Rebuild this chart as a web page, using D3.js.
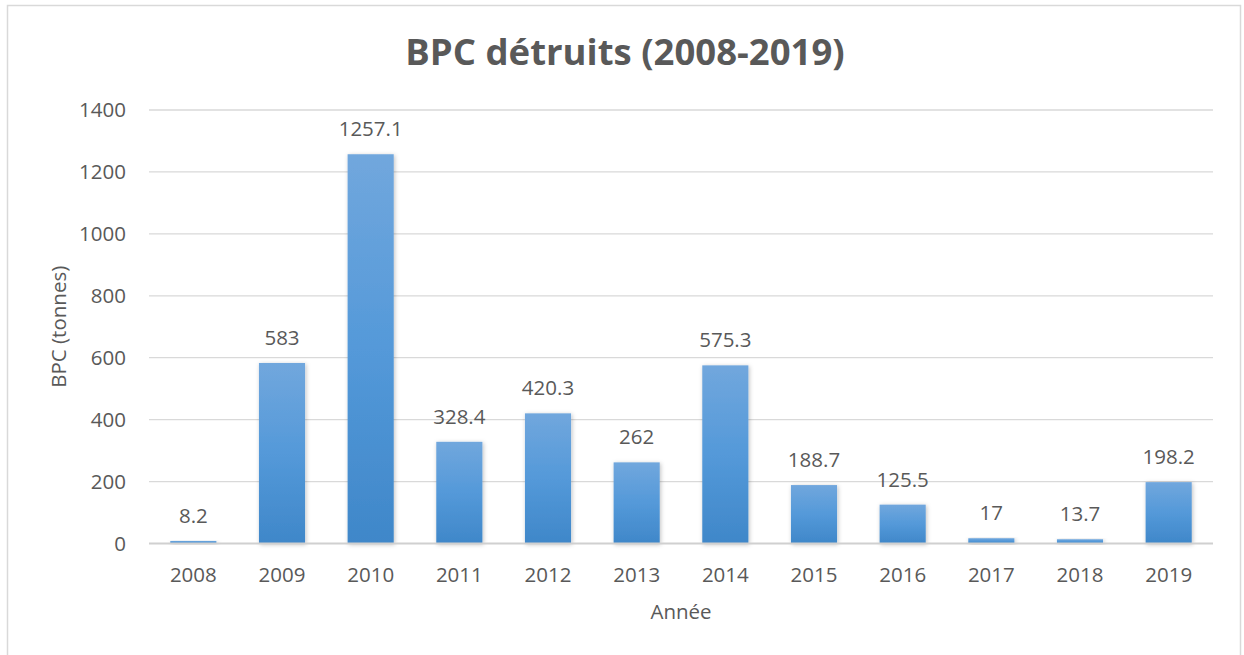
<!DOCTYPE html>
<html><head><meta charset="utf-8">
<script src="https://cdn.jsdelivr.net/npm/d3@7"></script>
<style>body{margin:0;background:#fff}svg{display:block}text{font-family:"Open Sans",sans-serif;fill:#595959}</style>
</head><body>
<svg id="c" width="1244" height="655"></svg>
<script>
const categories = ["2008","2009","2010","2011","2012","2013","2014","2015","2016","2017","2018","2019"];
const values = [8.2,583,1257.1,328.4,420.3,262,575.3,188.7,125.5,17,13.7,198.2];
const yTicks = [0,200,400,600,800,1000,1200,1400];
const labels = ["8.2","583","1257.1","328.4","420.3","262","575.3","188.7","125.5","17","13.7","198.2"];

const svg = d3.select("#c");
const m = {left:149, right:1213, top:110, bottom:543.5};

const defs = svg.append("defs");
const g = defs.append("linearGradient").attr("id","bg").attr("x1",0).attr("y1",0).attr("x2",0).attr("y2",1);
g.append("stop").attr("offset","0%").attr("stop-color","#71a7dd");
g.append("stop").attr("offset","50%").attr("stop-color","#5499d9");
g.append("stop").attr("offset","100%").attr("stop-color","#3f87c9");
const f = defs.append("filter").attr("id","sh").attr("x","-20%").attr("y","-20%").attr("width","140%").attr("height","140%");
f.append("feDropShadow").attr("dx",1).attr("dy",1).attr("stdDeviation",2).attr("flood-color","#000").attr("flood-opacity",0.25);

svg.append("rect").attr("x",7.5).attr("y",5.5).attr("width",1233).attr("height",660)
  .attr("fill","#fff").attr("stroke","#d9d9d9").attr("stroke-width",1.5);

const x = d3.scaleBand().domain(categories).range([m.left,m.right]).paddingInner(0.48).paddingOuter(0.24);
const y = d3.scaleLinear().domain([0,1400]).range([m.bottom,m.top]);

svg.append("g").selectAll("line").data(yTicks.slice(1)).join("line")
  .attr("x1",m.left).attr("x2",m.right).attr("y1",d=>y(d)).attr("y2",d=>y(d))
  .attr("stroke","#d9d9d9").attr("stroke-width",1.3);

const ya = svg.append("g").attr("transform",`translate(${m.left-23},0)`)
  .call(d3.axisLeft(y).tickValues(yTicks).tickSize(0).tickPadding(0).tickFormat(d3.format("d")));
ya.select(".domain").remove();
ya.selectAll("text").attr("font-size",20.5).attr("fill","#595959").attr("font-family","'Open Sans',sans-serif");

svg.append("g").selectAll("rect").data(values).join("rect")
  .attr("x",(d,i)=>x(categories[i])).attr("width",x.bandwidth())
  .attr("y",d=>y(d)).attr("height",d=>y(0)-y(d))
  .attr("fill","url(#bg)").attr("filter","url(#sh)");

svg.append("line").attr("x1",m.left).attr("x2",m.right).attr("y1",y(0)).attr("y2",y(0))
  .attr("stroke","#d0d0d0").attr("stroke-width",2);

svg.append("g").selectAll("text").data(values).join("text")
  .attr("x",(d,i)=>x(categories[i])+x.bandwidth()/2).attr("y",d=>y(d)-18)
  .attr("text-anchor","middle").attr("font-size",20.5).text((d,i)=>labels[i]);

const xa = svg.append("g").attr("transform",`translate(0,${m.bottom})`)
  .call(d3.axisBottom(x).tickSize(0).tickPadding(24));
xa.select(".domain").remove();
xa.selectAll("text").attr("font-size",20.5).attr("fill","#595959").attr("font-family","'Open Sans',sans-serif");

svg.append("text").attr("x",(m.left+m.right)/2).attr("y",619).attr("text-anchor","middle")
  .attr("font-size",20.5).text("Année");
svg.append("text").attr("transform",`translate(66,${(m.top+m.bottom)/2}) rotate(-90)`)
  .attr("text-anchor","middle").attr("font-size",20.5).text("BPC (tonnes)");

svg.append("text").attr("x",625).attr("y",65).attr("text-anchor","middle")
  .attr("font-size",36.5).attr("font-weight","bold").text("BPC détruits (2008-2019)");
</script>
</body></html>
